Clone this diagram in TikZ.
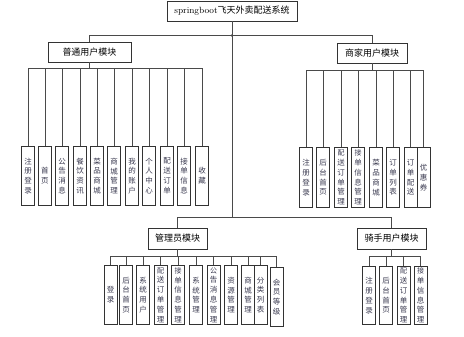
\documentclass[tikz,border=0pt]{standalone}
\usepackage{fontspec}
\newfontfamily\cjk{Noto Sans CJK SC}
\usetikzlibrary{positioning}
\definecolor{SysLine}{HTML}{4A4A4A}
\definecolor{SysText}{HTML}{3A3A50}
\newcommand\sixch{\fontsize{7}{8.6}\selectfont}

\begin{document}
\begin{tikzpicture}[x=1pt,y=-1pt,
    modbox/.style={draw=black!80,line width=0.95pt,fill=white,inner sep=0pt,font=\cjk\fontsize{9}{10}\selectfont},
    leaf/.style={draw=black!80,line width=0.95pt,fill=white,anchor=north,minimum width=13pt,inner sep=0pt,align=center,text=SysText,font=\cjk\fontsize{7.5}{9.8}\selectfont},
    link/.style={SysLine,line width=0.8pt}
  ]
    \useasboundingbox (0,0) rectangle (464,337);
    % top level
    \node[modbox,minimum width=130pt,minimum height=20pt] (title) at (232,11) {{\rmfamily springboot}飞天外卖配送系统};
    \node[modbox,minimum width=83pt,minimum height=20pt] (user) at (89.5,52) {普通用户模块};
    \node[modbox,minimum width=70pt,minimum height=20pt] (shop) at (372,53) {商家用户模块};
    \node[modbox,minimum width=59pt,minimum height=21pt] (admin) at (177.5,238.5) {管理员模块};
    \node[modbox,minimum width=69pt,minimum height=21pt] (rider) at (391.5,238.5) {骑手用户模块};
    \draw[link] (title.south) -- ++(0,14) -| (user.north);
    \draw[link] (title.south) -- ++(0,14) -| (shop.north);
    \draw[link] (title.south) -- ++(0,196) -| (admin.north);
    \draw[link] (title.south) -- ++(0,196) -| (rider.north);
    \fill[SysLine] (title.south) ++(0,14) circle (1.3pt);
    % user module
    \foreach \i/\x/\t in {1/28/注\\册\\登\\录,2/45/首\\页,3/62/公\\告\\消\\息,4/80/餐\\饮\\资\\讯,
        5/97/菜\\品\\商\\城,6/114/商\\城\\管\\理,7/132/我\\的\\账\\户,8/149/个\\人\\中\\心,
        9/167/配\\送\\订\\单,10/184/接\\单\\信\\息,11/202/收\\藏}{
      \node[leaf,minimum height=59pt] (u\i) at (\x,146) {\t};
      \draw[link] (user.south) -- ++(0,6) -| (u\i.north);
    }
    % shop module
    \foreach \i/\x/\t in {1/306/注\\册\\登\\录,2/323/后\\台\\首\\页,3/341/\sixch 配\\送\\订\\单\\管\\理,
        4/358/\sixch 接\\单\\信\\息\\管\\理,5/376/菜\\品\\商\\城,6/393/订\\单\\列\\表,
        7/410.5/订\\单\\配\\送,8/423.5/优\\惠\\券}{
      \node[leaf,minimum height=60pt] (s\i) at (\x,147) {\t};
      \draw[link] (shop.south) -- ++(0,7) -| (s\i.north);
    }
    % admin module
    \foreach \i/\x/\y/\t in {1/110.5/265/登\\录,2/126/265/后\\台\\首\\页,3/143/265/系\\统\\用\\户,
        4/160.5/265/\sixch 配\\送\\订\\单\\管\\理,5/178/265/\sixch 接\\单\\信\\息\\管\\理,
        6/196/265/系\\统\\管\\理,7/213.5/265/\sixch 公\\告\\消\\息\\管\\理,8/231/265/资\\源\\管\\理,
        9/248/265/商\\城\\管\\理,10/260.5/265/分\\类\\列\\表,11/276.5/267/会\\员\\等\\级}{
      \node[leaf,minimum height=59pt] (a\i) at (\x,\y) {\t};
      \draw[link] (admin.south) -- ++(0,7) -| (a\i.north);
    }
    % rider module
    \foreach \i/\x/\t in {1/369/注\\册\\登\\录,2/386/后\\台\\首\\页,
        3/403.5/\sixch 配\\送\\订\\单\\管\\理,4/420.5/\sixch 接\\单\\信\\息\\管\\理}{
      \node[leaf,minimum height=58pt] (r\i) at (\x,266) {\t};
      \draw[link] (rider.south) -- ++(0,7) -| (r\i.north);
    }
  \end{tikzpicture}
\end{document}
